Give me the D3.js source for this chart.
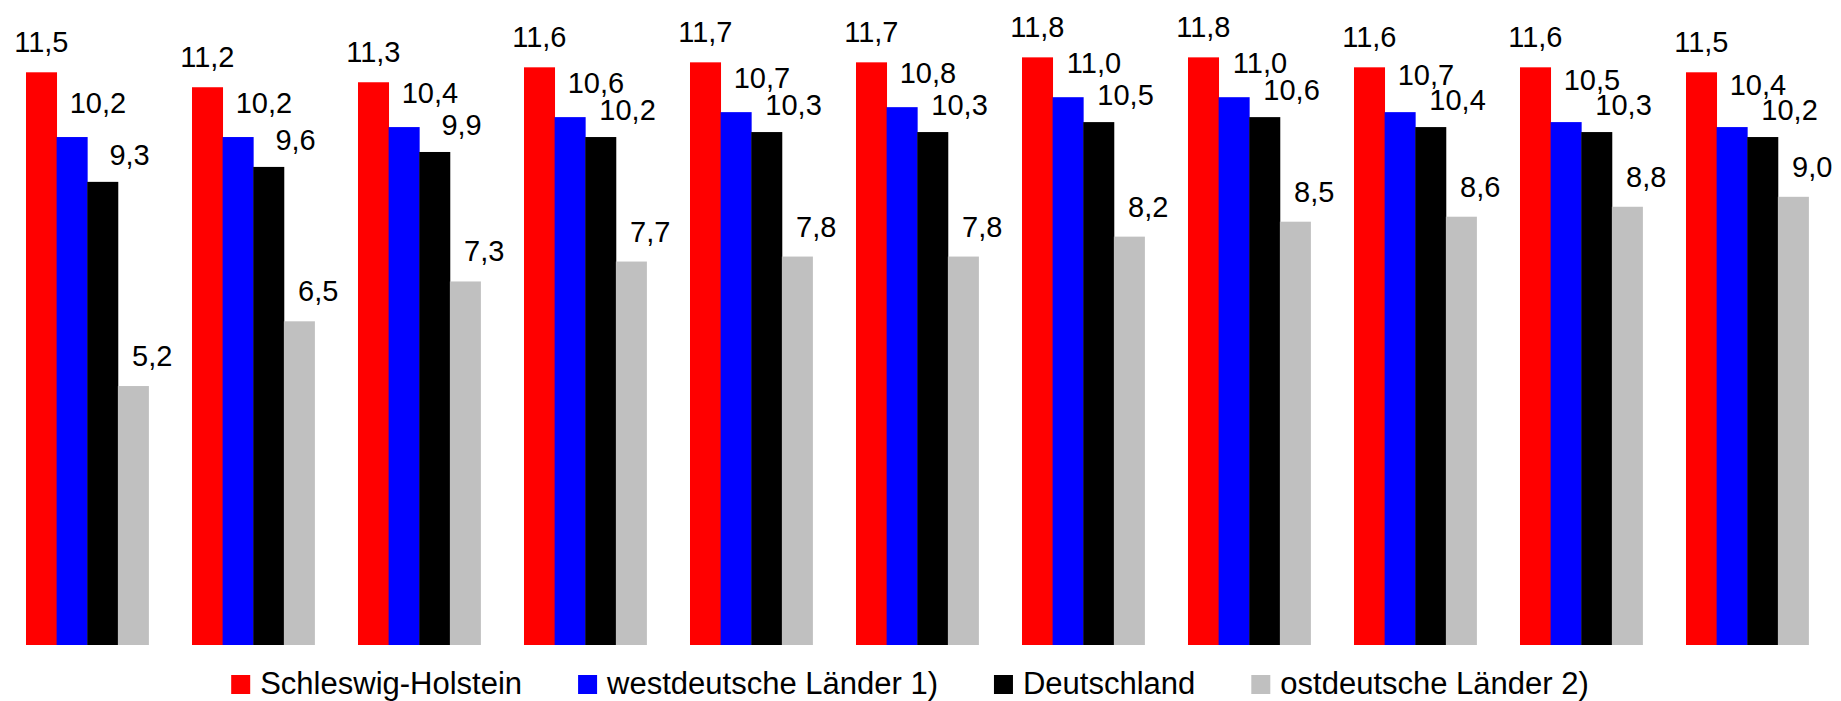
<!DOCTYPE html>
<html>
<head>
<meta charset="utf-8">
<script src="https://cdn.jsdelivr.net/npm/d3@7"></script>
<style>
  html, body { margin: 0; padding: 0; background: #fff; }
  svg { display: block; font-family: "Liberation Sans", Arial, sans-serif; }
</style>
</head>
<body>
<svg id="chart" width="1841" height="701"></svg>
<script>
// ---- data ----
const categories = ["1", "2", "3", "4", "5", "6", "7", "8", "9", "10", "11"];
const seriesNames = ["Schleswig-Holstein", "westdeutsche Länder 1)", "Deutschland", "ostdeutsche Länder 2)"];
const schleswigHolstein = [11.5, 11.2, 11.3, 11.6, 11.7, 11.7, 11.8, 11.8, 11.6, 11.6, 11.5];
const westdeutscheLaender = [10.2, 10.2, 10.4, 10.6, 10.7, 10.8, 11.0, 11.0, 10.7, 10.5, 10.4];
const deutschland = [9.3, 9.6, 9.9, 10.2, 10.3, 10.3, 10.5, 10.6, 10.4, 10.3, 10.2];
const ostdeutscheLaender = [5.2, 6.5, 7.3, 7.7, 7.8, 7.8, 8.2, 8.5, 8.6, 8.8, 9.0];

const seriesValues = [schleswigHolstein, westdeutscheLaender, deutschland, ostdeutscheLaender];
const colors = ["#ff0000", "#0000ff", "#000000", "#c0c0c0"];
// label offsets per series (dx from bar centre, dy from bar top)
const labelDx = [0, 26, 27, 19];
const labelDy = [-20, -24, -17, -20];
const minLabelGap = 25;

const svg = d3.select("#chart");
const locale = d3.formatLocale({ decimal: ",", thousands: ".", grouping: [3], currency: ["", " €"] });
const fmt = locale.format(".1f");

const x0 = d3.scaleBand().domain(categories).range([4.25, 1830.25])
  .paddingInner(0.262).paddingOuter(0.131);
const x1 = d3.scaleBand().domain(d3.range(seriesNames.length)).range([0, x0.bandwidth()]);
const y = d3.scaleLinear().domain([0, 12]).range([645, 47.4]);

const data = [];
categories.forEach((c, i) => {
  const row = seriesValues.map((vals, s) => ({ cat: c, s, v: vals[i] }));
  row.forEach(d => {
    d.lx = x0(d.cat) + x1(d.s) + x1.bandwidth() / 2 + labelDx[d.s];
    d.ly = y(d.v) + labelDy[d.s];
  });
  // keep the west label clear of the Deutschland label
  if (row[2].ly - row[1].ly < minLabelGap) row[1].ly = row[2].ly - minLabelGap;
  data.push(...row);
});

svg.append("g").selectAll("rect").data(data).join("rect")
  .attr("x", d => x0(d.cat) + x1(d.s))
  .attr("y", d => y(d.v))
  .attr("width", x1.bandwidth() + 0.4)
  .attr("height", d => y(0) - y(d.v))
  .attr("fill", d => colors[d.s]);

svg.append("g").selectAll("text").data(data).join("text")
  .attr("x", d => d.lx)
  .attr("y", d => d.ly)
  .attr("text-anchor", "middle")
  .attr("font-size", 29)
  .attr("fill", "#000")
  .text(d => fmt(d.v));

// ---- legend ----
const legend = svg.append("g");
let cx = 0;
seriesNames.forEach((name, i) => {
  const g = legend.append("g").attr("transform", `translate(${cx},0)`);
  g.append("rect").attr("x", 0).attr("y", 675).attr("width", 19).attr("height", 19).attr("fill", colors[i]);
  const t = g.append("text").attr("x", 29).attr("y", 694).attr("font-size", 31).attr("fill", "#000").text(name);
  const w = t.node().getComputedTextLength();
  cx += 29 + w + 56;
});
const total = cx - 56;
legend.attr("transform", `translate(${910 - total / 2},0)`);
</script>
</body>
</html>
